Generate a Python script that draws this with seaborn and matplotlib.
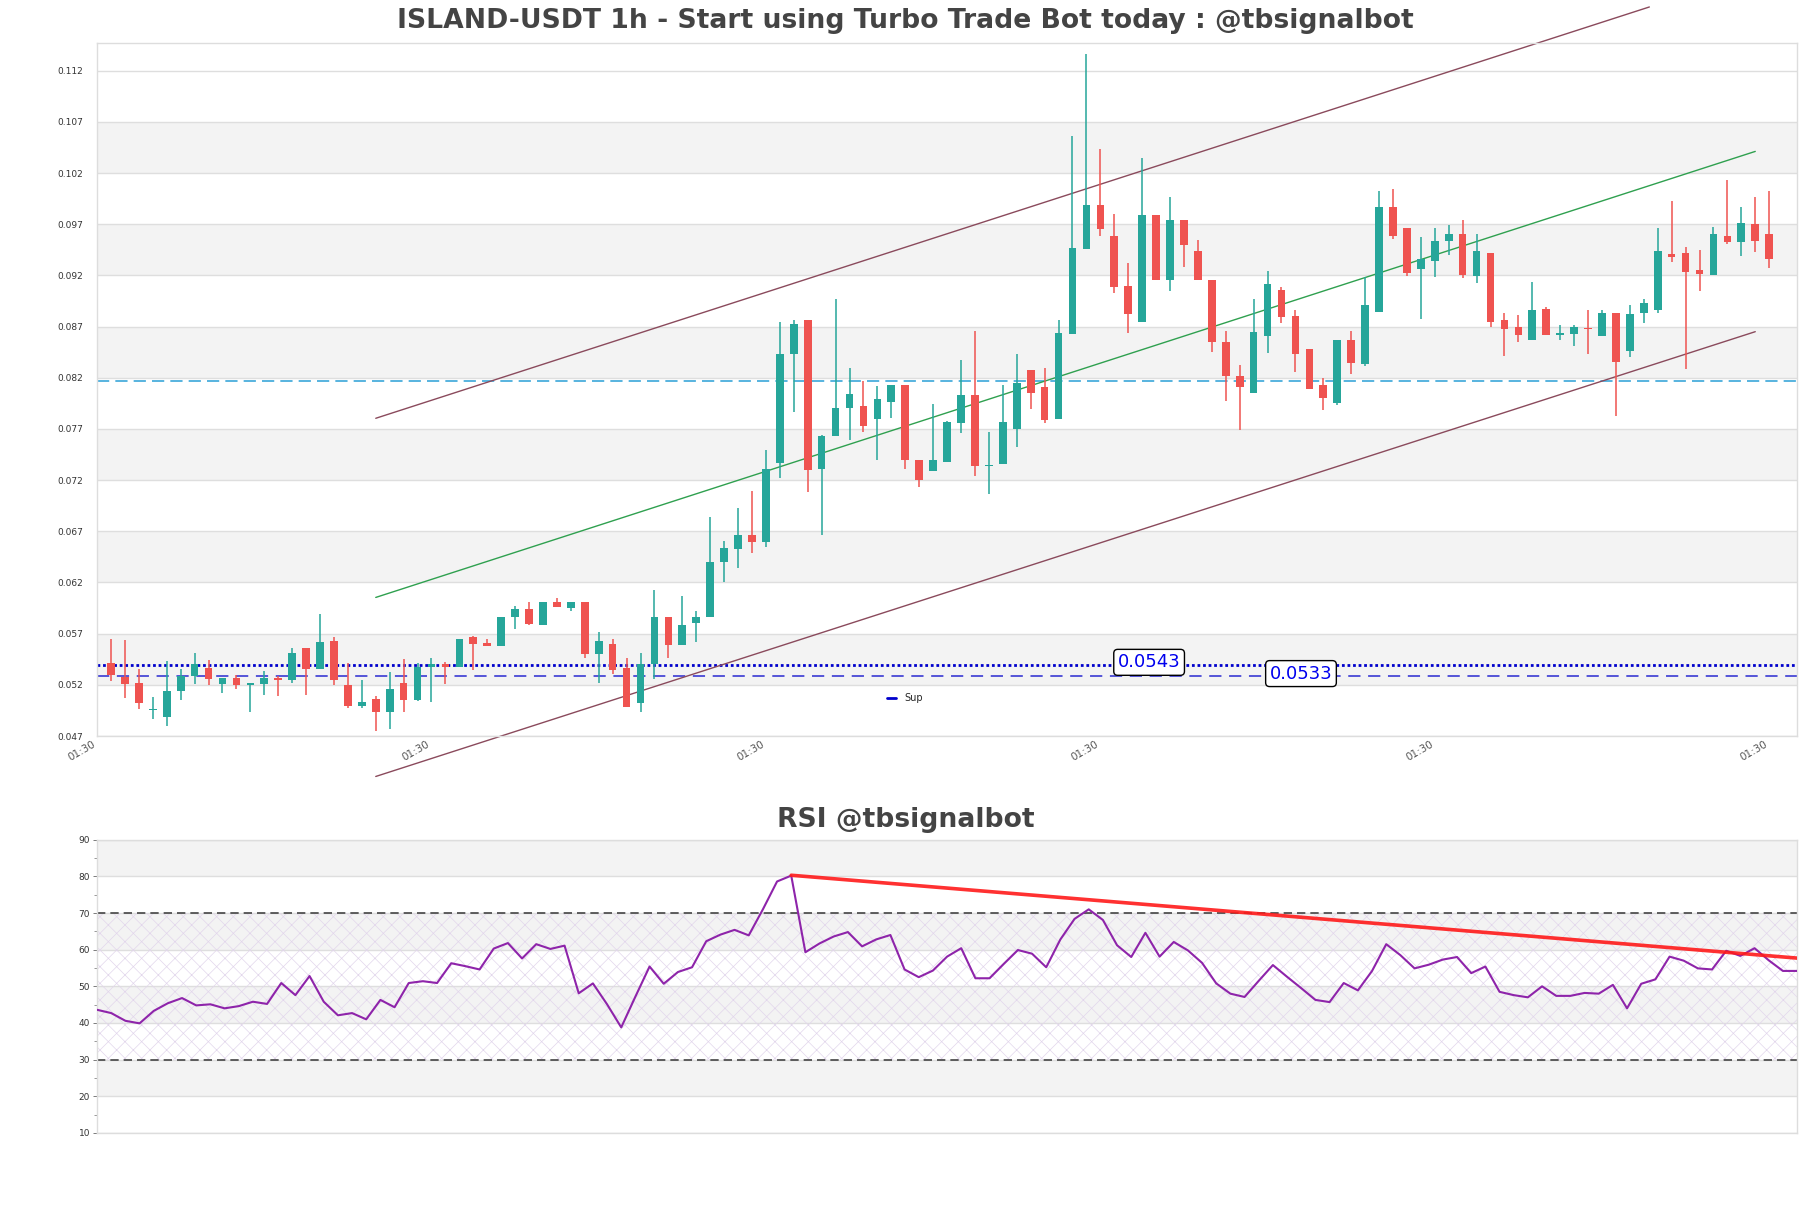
import numpy as np
import pandas as pd
import matplotlib
matplotlib.use("Agg")
import matplotlib.pyplot as plt
import seaborn as sns
from matplotlib.lines import Line2D
from matplotlib.ticker import FixedLocator, MultipleLocator

# ---------------- data ----------------
opens = [0.05410, 0.05276, 0.05222, 0.04958, 0.04890, 0.05137, 0.05285, 0.05365, 0.05204, 0.05267,
         0.05195, 0.05213, 0.05267, 0.05244, 0.05558, 0.05352, 0.05630, 0.05199, 0.04997, 0.05065,
         0.04930, 0.05222, 0.05051, 0.05374, 0.05401, 0.05374, 0.05666, 0.05612, 0.05576, 0.05859,
         0.05944, 0.05783, 0.06012, 0.05949, 0.06012, 0.05500, 0.05599, 0.05365, 0.05020, 0.05401,
         0.05864, 0.05590, 0.05801, 0.05859, 0.06398, 0.06523, 0.06667, 0.06591, 0.07363, 0.08431,
         0.08767, 0.07304, 0.07627, 0.07901, 0.07928, 0.07793, 0.07960, 0.08130, 0.07394, 0.07286,
         0.07376, 0.07758, 0.08027, 0.07340, 0.07354, 0.07695, 0.08274, 0.08112, 0.07793, 0.08624,
         0.09459, 0.09889, 0.09589, 0.09100, 0.08745, 0.09786, 0.09153, 0.09737, 0.09441, 0.09158,
         0.08552, 0.08215, 0.08049, 0.08606, 0.09059, 0.08799, 0.08476, 0.08126, 0.07955, 0.08565,
         0.08337, 0.08839, 0.09871, 0.09665, 0.09261, 0.09337, 0.09539, 0.09607, 0.09194, 0.09414,
         0.08767, 0.08696, 0.08565, 0.08875, 0.08619, 0.08628, 0.08687, 0.08606, 0.08835, 0.08458,
         0.08835, 0.08866, 0.09405, 0.09423, 0.09257, 0.09203, 0.09584, 0.09530, 0.09705, 0.09607,
         0.09360]
highs = [0.05644, 0.05635, 0.05356, 0.05083, 0.05433, 0.05356, 0.05514, 0.05446, 0.05267, 0.05298,
         0.05217, 0.05339, 0.05285, 0.05558, 0.05558, 0.05895, 0.05671, 0.05410, 0.05249, 0.05087,
         0.05321, 0.05455, 0.05410, 0.05464, 0.05428, 0.05648, 0.05680, 0.05648, 0.05864, 0.05967,
         0.06012, 0.06012, 0.06048, 0.06012, 0.06012, 0.05715, 0.05648, 0.05464, 0.05514, 0.06128,
         0.05864, 0.06070, 0.05922, 0.06842, 0.06609, 0.06932, 0.07093, 0.07497, 0.08740, 0.08767,
         0.08767, 0.07636, 0.08965, 0.08292, 0.08170, 0.08121, 0.08130, 0.08130, 0.07394, 0.07946,
         0.07776, 0.08377, 0.08655, 0.07668, 0.08126, 0.08435, 0.08274, 0.08292, 0.08767, 0.10558,
         0.11366, 0.10437, 0.09804, 0.09324, 0.10343, 0.09786, 0.09966, 0.09737, 0.09548, 0.09158,
         0.08655, 0.08323, 0.08965, 0.09243, 0.09091, 0.08866, 0.08476, 0.08193, 0.08565, 0.08655,
         0.09189, 0.10029, 0.10046, 0.09665, 0.09575, 0.09665, 0.09696, 0.09737, 0.09602, 0.09414,
         0.08830, 0.08817, 0.09131, 0.08893, 0.08714, 0.08718, 0.08857, 0.08866, 0.08835, 0.08907,
         0.08965, 0.09665, 0.09925, 0.09481, 0.09450, 0.09669, 0.10136, 0.09871, 0.09970, 0.10029,
         0.09360]
lows = [0.05240, 0.05074, 0.04962, 0.04863, 0.04795, 0.05051, 0.05213, 0.05199, 0.05119, 0.05164,
        0.04939, 0.05105, 0.05087, 0.05222, 0.05105, 0.05352, 0.05195, 0.04971, 0.04971, 0.04751,
        0.04769, 0.04930, 0.05042, 0.05033, 0.05213, 0.05374, 0.05343, 0.05576, 0.05576, 0.05747,
        0.05783, 0.05783, 0.05958, 0.05917, 0.05464, 0.05217, 0.05303, 0.04980, 0.04939, 0.05262,
        0.05464, 0.05590, 0.05621, 0.05859, 0.06205, 0.06339, 0.06487, 0.06546, 0.07219, 0.07865,
        0.07084, 0.06663, 0.07627, 0.07587, 0.07668, 0.07394, 0.07802, 0.07313, 0.07129, 0.07286,
        0.07376, 0.07663, 0.07237, 0.07062, 0.07354, 0.07520, 0.07892, 0.07758, 0.07793, 0.08624,
        0.09459, 0.09580, 0.09032, 0.08637, 0.08745, 0.09153, 0.09046, 0.09279, 0.09153, 0.08453,
        0.07969, 0.07686, 0.08049, 0.08444, 0.08731, 0.08260, 0.08090, 0.07888, 0.07937, 0.08238,
        0.08310, 0.08839, 0.09553, 0.09198, 0.08772, 0.09189, 0.09396, 0.09176, 0.09126, 0.08696,
        0.08408, 0.08547, 0.08565, 0.08615, 0.08565, 0.08507, 0.08435, 0.08606, 0.07825, 0.08399,
        0.08731, 0.08830, 0.09328, 0.08283, 0.09046, 0.09203, 0.09503, 0.09387, 0.09432, 0.09270,
        0.09356]
closes = [0.05298, 0.05208, 0.05020, 0.04966, 0.05141, 0.05289, 0.05401, 0.05253, 0.05267, 0.05195,
          0.05217, 0.05267, 0.05244, 0.05514, 0.05352, 0.05621, 0.05244, 0.04997, 0.05033, 0.04930,
          0.05159, 0.05056, 0.05379, 0.05401, 0.05374, 0.05648, 0.05603, 0.05576, 0.05864, 0.05944,
          0.05796, 0.06012, 0.05958, 0.06012, 0.05500, 0.05630, 0.05343, 0.04980, 0.05401, 0.05864,
          0.05590, 0.05787, 0.05864, 0.06398, 0.06532, 0.06667, 0.06591, 0.07313, 0.08435, 0.08727,
          0.07295, 0.07627, 0.07906, 0.08045, 0.07731, 0.07991, 0.08130, 0.07394, 0.07197, 0.07394,
          0.07767, 0.08027, 0.07340, 0.07349, 0.07771, 0.08153, 0.08049, 0.07789, 0.08633, 0.09472,
          0.09889, 0.09652, 0.09086, 0.08821, 0.09786, 0.09153, 0.09737, 0.09494, 0.09153, 0.08547,
          0.08215, 0.08108, 0.08651, 0.09117, 0.08790, 0.08435, 0.08090, 0.08000, 0.08565, 0.08346,
          0.08911, 0.09871, 0.09580, 0.09221, 0.09360, 0.09539, 0.09607, 0.09203, 0.09436, 0.08745,
          0.08673, 0.08615, 0.08866, 0.08615, 0.08633, 0.08696, 0.08678, 0.08835, 0.08350, 0.08826,
          0.08933, 0.09441, 0.09382, 0.09230, 0.09212, 0.09607, 0.09530, 0.09714, 0.09539, 0.09360,
          0.09356]
rsi = [43.6, 42.7, 40.6, 39.9, 43.3, 45.4, 46.8, 44.8, 45.1, 44.0,
       44.6, 45.8, 45.2, 50.9, 47.6, 52.8, 45.8, 42.1, 42.7, 41.0,
       46.3, 44.3, 50.9, 51.4, 50.9, 56.3, 55.5, 54.6, 60.3, 61.8,
       57.6, 61.5, 60.2, 61.1, 48.1, 50.8, 45.1, 38.8, 47.2, 55.4,
       50.7, 53.9, 55.2, 62.3, 64.1, 65.4, 63.9, 71.0, 78.6, 80.2,
       59.3, 61.7, 63.6, 64.8, 60.9, 62.8, 64.0, 54.6, 52.5, 54.3,
       58.1, 60.4, 52.2, 52.2, 56.1, 59.9, 58.9, 55.2, 62.8, 68.4,
       71.0, 68.1, 61.2, 58.0, 64.6, 58.1, 62.1, 59.8, 56.4, 50.8,
       48.0, 47.1, 51.5, 55.8, 52.6, 49.5, 46.3, 45.7, 50.9, 48.9,
       54.2, 61.5, 58.5, 54.9, 55.9, 57.3, 58.0, 53.6, 55.4, 48.5,
       47.6, 47.0, 50.0, 47.4, 47.4, 48.2, 48.0, 50.4, 44.0, 50.7,
       51.9, 58.1, 57.0, 54.9, 54.6, 59.7, 58.3, 60.4, 57.1, 54.2,
       54.2]

x_tick_labels = ["01:30", "01:30", "01:30", "01:30", "01:30", "01:30"]
price_ticks = [0.047, 0.052, 0.057, 0.062, 0.067, 0.072, 0.077, 0.082, 0.087, 0.092, 0.097, 0.102, 0.107, 0.112]
rsi_ticks = [10, 20, 30, 40, 50, 60, 70, 80, 90]
support_labels = ["0.0543", "0.0533"]
support_dotted = 0.0539      # drawn level of the dotted line
support_dashed = 0.0529      # drawn level of the dashed line
resistance = 0.08166
channel_idx = [19, 118]
channel_upper_idx = [19, 110.4]
channel_upper = [0.07804, 0.11822]
channel_mid = [0.06054, 0.10411]
channel_lower = [0.04305, 0.08650]
rsi_trend_idx = [49, 120]
rsi_trend_val = [80.3, 57.7]

title = "ISLAND-USDT 1h - Start using Turbo Trade Bot today : @tbsignalbot"
rsi_title = "RSI @tbsignalbot"

df = pd.DataFrame({"open": opens, "high": highs, "low": lows, "close": closes})
df["idx"] = np.arange(len(df))
df["rsi"] = rsi

# ---------------- style ----------------
sns.set_theme(style="white")
plt.rcParams["font.family"] = ["DejaVu Sans"]
plt.rcParams["hatch.linewidth"] = 0.5

UP = "#26a69a"
DOWN = "#ef5350"
BAND = "#f3f3f3"
GRID = "#dedede"

fig = plt.figure(figsize=(18.11, 12.08), dpi=100)
ax = fig.add_axes([0.0536, 0.3907, 0.9387, 0.5737])
ax2 = fig.add_axes([0.0536, 0.0621, 0.9387, 0.2428])

# ---------------- main price chart ----------------
for i in range(0, len(price_ticks) - 1):
    if i % 2 == 1:
        ax.axhspan(price_ticks[i], price_ticks[i + 1], color=BAND, zorder=0, lw=0)
for t in price_ticks:
    ax.axhline(t, color=GRID, lw=1, zorder=0.5)

up = df["close"] >= df["open"]
colors = np.where(up, UP, DOWN)
ax.vlines(df["idx"], df["low"], df["high"], colors=colors, lw=1.1, zorder=3)
body_bottom = np.minimum(df["open"], df["close"])
body_h = np.maximum(np.abs(df["close"] - df["open"]), 0.00006)
ax.bar(df["idx"], body_h, bottom=body_bottom, width=0.55, color=colors, lw=0, zorder=4)

# horizontal levels
ax.axhline(resistance, color="#2a9fd6", lw=1.1, ls=(0, (8, 4)), zorder=2)
ax.axhline(support_dotted, color="#0000cc", lw=2.0, ls=(0, (1, 1)), zorder=2)
ax.axhline(support_dashed, color="#2a2ad0", lw=1.1, ls=(0, (8, 5)), zorder=2)
ax.text(74.5, support_dotted + 0.0003, support_labels[0], color="#0000ee", fontsize=13,
        ha="center", va="center", zorder=6,
        bbox=dict(boxstyle="round,pad=0.22", fc="white", ec="black", lw=1))
ax.text(85.4, support_dashed + 0.0002, support_labels[1], color="#0000ee", fontsize=13,
        ha="center", va="center", zorder=6,
        bbox=dict(boxstyle="round,pad=0.22", fc="white", ec="black", lw=1))

# channel
ax.plot(channel_upper_idx, channel_upper, color="#8a4a5c", lw=1.0, clip_on=False, zorder=2)
ax.plot(channel_idx, channel_mid, color="#2fa04f", lw=1.0, clip_on=False, zorder=2)
ax.plot(channel_idx, channel_lower, color="#8a4a5c", lw=1.0, clip_on=False, zorder=2)

ax.set_xlim(-1, 121)
ax.set_ylim(0.047, 0.1147)
ax.yaxis.set_major_locator(FixedLocator(price_ticks))
ax.set_yticklabels([f"{t:.3f}" for t in price_ticks])
ax.set_xticks([-1, 23, 47, 71, 95, 119])
ax.set_xticklabels(x_tick_labels, rotation=30, ha="right")
ax.tick_params(axis="y", length=0, pad=10, labelsize=6.5, labelcolor="#333333")
ax.tick_params(axis="x", length=0, pad=2, labelsize=7.5, labelcolor="#555555")
for s in ax.spines.values():
    s.set_color("#dddddd")
    s.set_linewidth(1)

leg = ax.legend(handles=[Line2D([0], [0], color="#0000cc", lw=2)], labels=["Sup"],
                loc="center", bbox_to_anchor=(0.475, 0.055), frameon=False,
                fontsize=7, handlelength=1.0, handletextpad=0.8)

# ---------------- RSI ----------------
for lo, hi in [(80, 90), (60, 70), (40, 50), (20, 30)]:
    ax2.axhspan(lo, hi, color=BAND, zorder=0, lw=0)
for t in rsi_ticks:
    ax2.axhline(t, color=GRID, lw=1, zorder=0.5)
ax2.fill_between([0, len(rsi) - 1], 30, 70, facecolor="none", edgecolor="#e2d6ec",
                 hatch="xx", lw=0, zorder=0.8)
ax2.axhline(70, color="#444444", lw=1.2, ls=(0, (5, 3)), zorder=2)
ax2.axhline(30, color="#444444", lw=1.2, ls=(0, (5, 3)), zorder=2)

sns.lineplot(data=df, x="idx", y="rsi", ax=ax2, color="#8e24aa", lw=1.5, zorder=3)
ax2.plot(rsi_trend_idx, rsi_trend_val, color="#ff1a1a", lw=2.6, alpha=0.9, zorder=4)

ax2.set_xlim(0, len(rsi) - 1)
ax2.set_ylim(10, 90)
ax2.set_yticks(rsi_ticks)
ax2.yaxis.set_minor_locator(MultipleLocator(5))
ax2.set_xticks([])
ax2.set_xlabel("")
ax2.set_ylabel("")
ax2.tick_params(axis="y", which="major", left=True, length=3, width=0.6, color="#666666",
                labelsize=6.5, labelcolor="#333333", pad=2)
ax2.tick_params(axis="y", which="minor", left=True, length=2, width=0.6, color="#888888")
for s in ax2.spines.values():
    s.set_color("#dddddd")
    s.set_linewidth(1)

fig.text(0.5, 0.983, title, ha="center", va="center", fontsize=19.2, fontweight="bold",
         color="#444444")
fig.text(0.5, 0.321, rsi_title, ha="center", va="center", fontsize=19.2, fontweight="bold",
         color="#444444")

fig.savefig("out.png", dpi=100)
